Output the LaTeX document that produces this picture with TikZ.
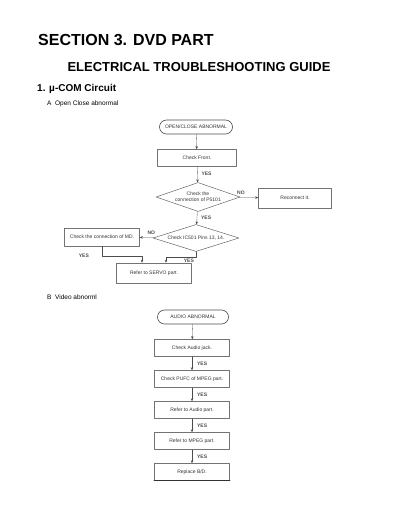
\documentclass[tikz,border=0pt]{standalone}
\usepackage{fontspec}
\setmainfont{Liberation Sans}
\usetikzlibrary{shapes.geometric,shapes.misc,arrows.meta}
\begin{document}
\begin{tikzpicture}[x=1pt, y=-1pt, line cap=round, line join=round, >={Stealth[length=3pt,width=2.4pt]},
	box/.style={draw=black!55, line width=0.5pt, minimum width=75pt, minimum height=17pt, inner sep=1pt, font=\fontsize{5}{6}\selectfont, text=black!80},
	terminal/.style={rounded rectangle, draw=black!70, line width=0.6pt, minimum width=75pt, minimum height=14pt, inner sep=1pt, font=\fontsize{5}{6}\selectfont, text=black!80},
	decision/.style={diamond, aspect=3, draw=black!60, line width=0.5pt, inner sep=0pt, align=center, font=\fontsize{5}{6}\selectfont, text=black!80},
	lbl/.style={font=\fontsize{5}{6}\selectfont\bfseries, inner sep=1pt},
	link/.style={->, line width=0.3pt, black!70}]

	% Taille de la page
	\useasboundingbox (0,0) rectangle (400,518);

	% Titres
	\node[anchor=west, inner sep=0pt, font=\fontsize{16}{18}\selectfont\bfseries] (title) at (38,40) {SECTION 3. DVD PART};
	\node[inner sep=0pt, font=\fontsize{13}{15}\selectfont\bfseries] (guide) at (199,67) {ELECTRICAL TROUBLESHOOTING GUIDE};
	\node[anchor=west, inner sep=0pt, font=\fontsize{10}{12}\selectfont\bfseries] (secA) at (37,89) {1. µ-COM Circuit};
	\node[anchor=west, inner sep=0pt, font=\fontsize{6.5}{8}\selectfont] (subA) at (47,104) {A\ \ Open Close abnormal};

	% A : ouverture / fermeture
	\node[terminal] (openclose) at (196,127) {OPEN/CLOSE ABNORMAL};
	\node[box, minimum width=79pt] (front) at (197,158) {Check Front.};
	\node[decision, minimum width=84pt, minimum height=29pt] (conn) at (198,197) {Check the\\connection of P5101};
	\node[box, minimum width=73pt, minimum height=20pt] (reconn) at (295,198) {Reconnect it.};
	\node[decision, minimum width=86pt, minimum height=27pt] (pins) at (196,238) {Check IC501 Pins 13, 14.};
	\node[box, minimum width=75pt, minimum height=18pt] (md) at (102,237) {Check the connection of MD.};
	\node[box, minimum width=75pt, minimum height=20pt] (servo) at (154,273) {Refer to SERVO part.};

	\draw[link] (openclose) -- (front);
	\draw[link] (front) -- (conn) node[lbl, pos=0.45, right=3pt] {YES};
	\draw[link] (conn) -- (reconn) node[lbl, pos=0.1, above=2pt] {NO};
	\draw[link] (conn) -- (pins) node[lbl, pos=0.45, right=3pt] {YES};
	\draw[link] (pins) -- (md) node[lbl, pos=0.2, above=2pt] {NO};
	\draw[link] (md.south) -- ++(0,10) node[lbl, left=12pt] {YES} -| ([xshift=-12pt]servo.north);
	\draw[link] (pins.south) -- ++(0,5) node[lbl, below left=1pt] {YES} -| ([xshift=12pt]servo.north);

	% B : audio
	\node[anchor=west, inner sep=0pt, font=\fontsize{6.5}{8}\selectfont] (subB) at (47,297) {B\ \ Video abnorml};
	\node[terminal, minimum width=73pt] (audio) at (193,317) {AUDIO ABNORMAL};
	\node[box] (jack) at (192,348) {Check Audio jack.};
	\node[box] (pufc) at (192,379) {Check PUFC of MPEG part.};
	\node[box] (refaud) at (192,410) {Refer to Audio part.};
	\node[box] (refmpeg) at (192,441) {Refer to MPEG part.};
	\node[box, line width=0.6pt] (replace) at (192,472) {Replace B/D.};
	\draw[black!80, line width=1pt] (replace.south west) -- (replace.south east);

	\draw[link] (audio) -- (jack);
	\draw[link] (jack) -- (pufc) node[lbl, pos=0.5, right=4pt] {YES};
	\draw[link] (pufc) -- (refaud) node[lbl, pos=0.5, right=4pt] {YES};
	\draw[link] (refaud) -- (refmpeg) node[lbl, pos=0.5, right=4pt] {YES};
	\draw[link] (refmpeg) -- (replace) node[lbl, pos=0.5, right=4pt] {YES};

\end{tikzpicture}
\end{document}
